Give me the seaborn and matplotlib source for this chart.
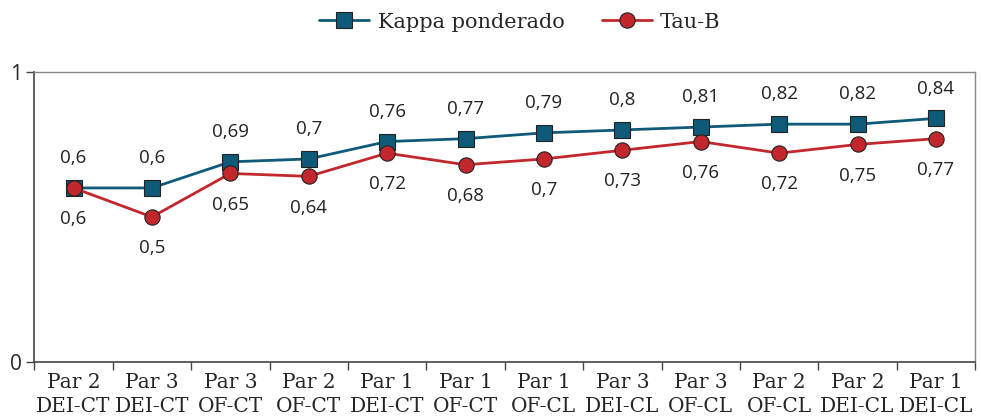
import matplotlib.pyplot as plt
import seaborn as sns
import pandas as pd
import numpy as np

sns.set_style("white")

categories = ["Par 2\nDEI-CT", "Par 3\nDEI-CT", "Par 3\nOF-CT", "Par 2\nOF-CT",
              "Par 1\nDEI-CT", "Par 1\nOF-CT", "Par 1\nOF-CL", "Par 3\nDEI-CL",
              "Par 3\nOF-CL", "Par 2\nOF-CL", "Par 2\nDEI-CL", "Par 1\nDEI-CL"]
kappa = [0.6, 0.6, 0.69, 0.7, 0.76, 0.77, 0.79, 0.8, 0.81, 0.82, 0.82, 0.84]
tau_b = [0.6, 0.5, 0.65, 0.64, 0.72, 0.68, 0.7, 0.73, 0.76, 0.72, 0.75, 0.77]

label_font = ["DejaVu Serif"]
value_font = ["Open Sans", "DejaVu Sans"]

df = pd.DataFrame({
    "pos": list(range(len(categories))) * 2,
    "valor": kappa + tau_b,
    "serie": ["Kappa ponderado"] * len(kappa) + ["Tau-B"] * len(tau_b),
})

colors = {"Kappa ponderado": "#0f5a78", "Tau-B": "#c1272d"}

fig = plt.figure(figsize=(9.81, 4.16), dpi=100)
ax = fig.add_axes([0.035, 0.13, 0.959, 0.697])

sns.lineplot(data=df, x="pos", y="valor", hue="serie", style="serie",
             markers={"Kappa ponderado": "s", "Tau-B": "o"}, dashes=False,
             palette=colors, linewidth=2, markersize=11,
             markeredgecolor="#222222", markeredgewidth=0.8, ax=ax)

# data labels: kappa above, tau below
for i, (k, t) in enumerate(zip(kappa, tau_b)):
    ax.annotate(f"{k:g}".replace(".", ","), (i, k), xytext=(0, 15),
                textcoords="offset points", ha="center", va="bottom",
                fontsize=13.5, family=value_font, color="#222222")
    ax.annotate(f"{t:g}".replace(".", ","), (i, t), xytext=(0, -16),
                textcoords="offset points", ha="center", va="top",
                fontsize=13.5, family=value_font, color="#222222")

ax.set_xlim(-0.5, len(categories) - 0.5)
ax.set_ylim(0, 1)
ax.set_yticks([0, 1])
ax.set_yticklabels(["0", "1"], fontsize=15, family=value_font)
ax.set_xticks(range(len(categories)))
ax.set_xticklabels(categories, fontsize=14.5, family=label_font, linespacing=1.3)
ax.set_xticks(np.arange(-0.5, len(categories), 1), minor=True)
ax.tick_params(axis="x", which="major", length=0, pad=8)
ax.tick_params(axis="x", which="minor", length=6, width=1, color="#444444", direction="out", bottom=True)
ax.tick_params(axis="y", length=6, width=1, color="#444444", direction="out", left=True, pad=3)
ax.set_xlabel("")
ax.set_ylabel("")

for side in ["left", "bottom"]:
    ax.spines[side].set_color("#444444")
    ax.spines[side].set_linewidth(1.2)
for side in ["top", "right"]:
    ax.spines[side].set_color("#888888")
    ax.spines[side].set_linewidth(1)

handles, labels = ax.get_legend_handles_labels()
leg = fig.legend(handles, labels, loc="upper center", bbox_to_anchor=(0.53, 1.015),
                 ncol=2, frameon=False, handlelength=2.4, handletextpad=0.4,
                 columnspacing=1.8, prop={"family": label_font, "size": 15})
ax.get_legend().remove()

fig.savefig("out.png", dpi=100)
